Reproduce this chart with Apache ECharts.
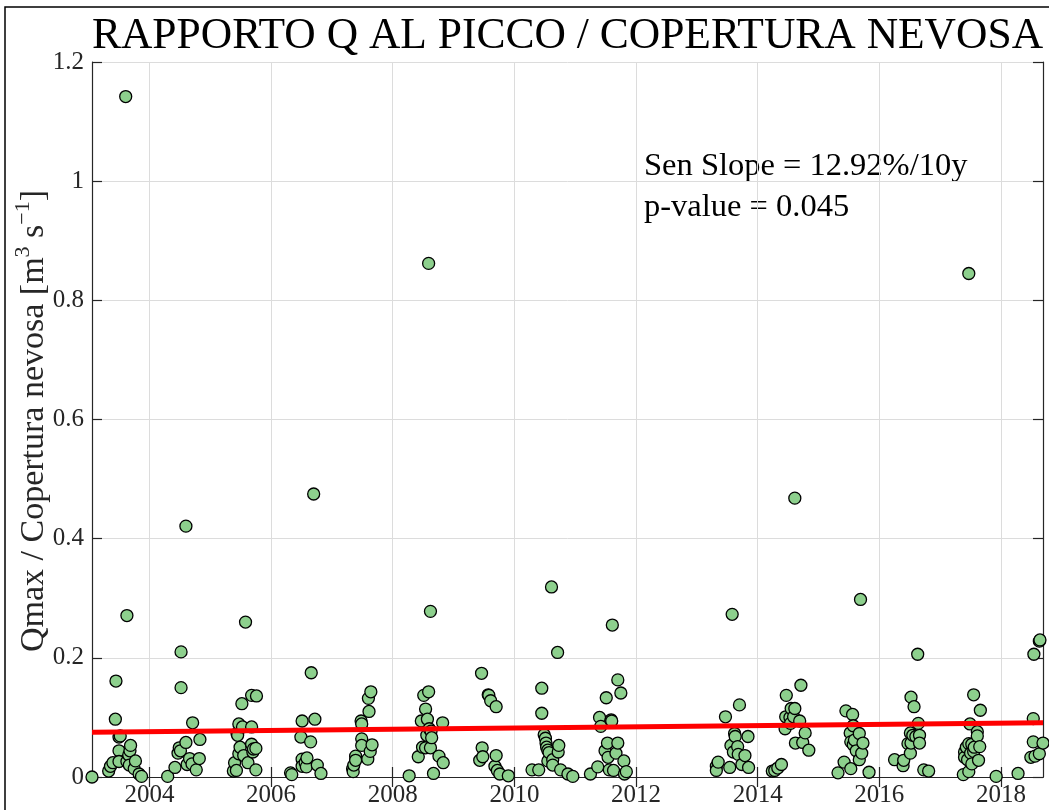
<!DOCTYPE html>
<html>
<head>
<meta charset="utf-8">
<script src="https://cdn.jsdelivr.net/npm/echarts@6/dist/echarts.min.js"></script>
<style>
  html, body { margin: 0; padding: 0; background: #ffffff; }
  #chart { width: 1049px; height: 810px; }
</style>
</head>
<body>
<div id="chart"></div>
<script>
// Peak discharge / snow cover ratio, one array of [decimal year, ratio] per melt season
const season2003 = [[2003.056,0.000],[2003.33,0.010],[2003.36,0.018],[2003.40,0.024],[2003.44,0.097],[2003.45,0.161],[2003.50,0.067],[2003.52,0.069],[2003.50,0.044],[2003.50,0.026],[2003.61,1.142],[2003.63,0.271],[2003.63,0.026],[2003.66,0.037],[2003.67,0.020],[2003.68,0.044],[2003.69,0.053],[2003.75,0.014],[2003.77,0.027],[2003.83,0.005],[2003.87,0.001]];
const season2004 = [[2004.30,0.001],[2004.42,0.016],[2004.47,0.040],[2004.49,0.049],[2004.51,0.044],[2004.52,0.210],[2004.52,0.150],[2004.60,0.058],[2004.60,0.421],[2004.62,0.021],[2004.66,0.031],[2004.70,0.022],[2004.71,0.091],[2004.77,0.012],[2004.82,0.031],[2004.83,0.063]];
const season2005 = [[2005.38,0.010],[2005.40,0.024],[2005.43,0.011],[2005.44,0.073],[2005.45,0.070],[2005.47,0.089],[2005.47,0.039],[2005.49,0.050],[2005.52,0.123],[2005.53,0.084],[2005.55,0.036],[2005.58,0.260],[2005.62,0.024],[2005.68,0.137],[2005.68,0.084],[2005.68,0.055],[2005.70,0.042],[2005.71,0.047],[2005.75,0.048],[2005.75,0.012],[2005.76,0.136]];
const season2006 = [[2006.32,0.007],[2006.34,0.004],[2006.49,0.067],[2006.51,0.094],[2006.51,0.030],[2006.51,0.018],[2006.56,0.024],[2006.58,0.017],[2006.59,0.032],[2006.65,0.059],[2006.66,0.175],[2006.70,0.475],[2006.72,0.097],[2006.76,0.020],[2006.82,0.006]];
const season2007 = [[2007.34,0.014],[2007.35,0.009],[2007.36,0.020],[2007.39,0.035],[2007.39,0.028],[2007.48,0.094],[2007.49,0.089],[2007.49,0.064],[2007.49,0.053],[2007.59,0.030],[2007.60,0.132],[2007.61,0.110],[2007.63,0.043],[2007.64,0.143],[2007.66,0.054]];
const season2008 = [[2008.27,0.002],[2008.42,0.034],[2008.47,0.094],[2008.49,0.050],[2008.51,0.137],[2008.54,0.114],[2008.54,0.049],[2008.56,0.070],[2008.57,0.097],[2008.59,0.143],[2008.59,0.862],[2008.60,0.081],[2008.62,0.278],[2008.62,0.049],[2008.63,0.077],[2008.64,0.066],[2008.67,0.006],[2008.76,0.035],[2008.82,0.091],[2008.83,0.024]];
const season2009 = [[2009.43,0.028],[2009.46,0.174],[2009.47,0.049],[2009.48,0.034],[2009.57,0.138],[2009.58,0.137],[2009.61,0.128],[2009.68,0.018],[2009.70,0.118],[2009.70,0.036],[2009.72,0.011],[2009.76,0.005],[2009.90,0.002]];
const season2010 = [[2010.29,0.012],[2010.40,0.012],[2010.45,0.149],[2010.45,0.107],[2010.49,0.071],[2010.51,0.065],[2010.52,0.057],[2010.53,0.050],[2010.55,0.045],[2010.55,0.027],[2010.57,0.041],[2010.61,0.319],[2010.63,0.029],[2010.63,0.020],[2010.71,0.209],[2010.72,0.042],[2010.73,0.053],[2010.76,0.012],[2010.88,0.005],[2010.96,0.001]];
const season2011 = [[2011.25,0.005],[2011.37,0.017],[2011.40,0.100],[2011.42,0.085],[2011.49,0.044],[2011.51,0.133],[2011.53,0.057],[2011.54,0.033],[2011.56,0.012],[2011.59,0.096],[2011.60,0.094],[2011.61,0.255],[2011.63,0.011],[2011.67,0.040],[2011.70,0.163],[2011.70,0.057],[2011.75,0.141],[2011.80,0.027],[2011.81,0.005],[2011.84,0.009]];
const season2013 = [[2013.32,0.018],[2013.32,0.011],[2013.35,0.025],[2013.47,0.101],[2013.54,0.016],[2013.56,0.053],[2013.58,0.273],[2013.60,0.042],[2013.62,0.073],[2013.63,0.068],[2013.67,0.051],[2013.68,0.038],[2013.70,0.121],[2013.74,0.021],[2013.79,0.036],[2013.84,0.068],[2013.85,0.016]];
const season2014 = [[2014.24,0.010],[2014.28,0.011],[2014.33,0.015],[2014.39,0.021],[2014.45,0.081],[2014.46,0.101],[2014.47,0.137],[2014.53,0.100],[2014.54,0.090],[2014.55,0.115],[2014.59,0.101],[2014.61,0.115],[2014.61,0.468],[2014.62,0.057],[2014.69,0.094],[2014.71,0.154],[2014.74,0.058],[2014.78,0.074],[2014.84,0.045]];
const season2015 = [[2015.32,0.007],[2015.42,0.025],[2015.45,0.111],[2015.52,0.074],[2015.53,0.059],[2015.53,0.014],[2015.56,0.105],[2015.57,0.086],[2015.57,0.054],[2015.59,0.062],[2015.62,0.044],[2015.67,0.073],[2015.67,0.029],[2015.69,0.298],[2015.71,0.040],[2015.73,0.057],[2015.83,0.008]];
const season2016 = [[2016.25,0.029],[2016.39,0.019],[2016.40,0.028],[2016.47,0.056],[2016.51,0.074],[2016.51,0.040],[2016.52,0.134],[2016.52,0.057],[2016.55,0.070],[2016.57,0.118],[2016.60,0.068],[2016.63,0.206],[2016.64,0.090],[2016.66,0.070],[2016.66,0.057],[2016.73,0.012],[2016.81,0.010]];
const season2017 = [[2017.38,0.004],[2017.40,0.042],[2017.40,0.033],[2017.43,0.050],[2017.45,0.029],[2017.47,0.056],[2017.47,0.009],[2017.47,0.845],[2017.49,0.089],[2017.50,0.040],[2017.52,0.055],[2017.52,0.022],[2017.55,0.138],[2017.55,0.043],[2017.56,0.050],[2017.61,0.076],[2017.61,0.069],[2017.63,0.028],[2017.65,0.051],[2017.66,0.112],[2017.92,0.001]];
const season2018 = [[2018.28,0.006],[2018.49,0.033],[2018.53,0.098],[2018.53,0.059],[2018.54,0.206],[2018.56,0.035],[2018.63,0.039],[2018.63,0.228],[2018.64,0.230],[2018.69,0.057]];

// Sen-slope trend line across the record
const trendLine = [[2003.056, 0.0752], [2018.69, 0.0910]];

// Axis ranges and tick values
const xRange = [2003.056, 2018.69];
const yearTicks = [2004, 2006, 2008, 2010, 2012, 2014, 2016, 2018];
const yRange = [0, 1.2];
const yStep = 0.2;

const titleText = 'RAPPORTO Q AL PICCO / COPERTURA NEVOSA';
const statLines = ['Sen Slope = 12.92%/10y', 'p-value = 0.045'];

const allPoints = [].concat(season2003, season2004, season2005, season2006, season2007,
  season2008, season2009, season2010, season2011, season2013, season2014, season2015,
  season2016, season2017, season2018);

const SERIF = '"Liberation Serif", "DejaVu Serif", serif';
const INK = '#262626';
const GRID_COLOR = '#dcdcdc';

const chart = echarts.init(document.getElementById('chart'), null, { renderer: 'canvas' });

const plotLeft = 92, plotTop = 62, plotRight = 1043, plotBottom = 777;

const axisLineStyle = { show: true, lineStyle: { color: INK, width: 1.2 } };

chart.setOption({
  backgroundColor: '#ffffff',
  animation: false,
  grid: { left: plotLeft, top: plotTop, right: 1049 - plotRight, bottom: 810 - plotBottom, containLabel: false },
  xAxis: [
    {
      type: 'value', position: 'bottom', min: xRange[0], max: xRange[1],
      axisLine: axisLineStyle,
      axisTick: { show: true, inside: true, length: 10, customValues: yearTicks, lineStyle: { color: INK, width: 1.2 } },
      axisLabel: { show: true, customValues: yearTicks, formatter: v => String(Math.round(v)),
        color: INK, fontFamily: SERIF, fontSize: 25, margin: 6 },
      splitLine: { show: true, lineStyle: { color: GRID_COLOR, width: 1 } }
    },
    {
      type: 'value', position: 'top', min: xRange[0], max: xRange[1],
      axisLine: axisLineStyle,
      axisTick: { show: true, inside: true, length: 10, customValues: yearTicks, lineStyle: { color: INK, width: 1.2 } },
      axisLabel: { show: false },
      splitLine: { show: false }
    }
  ],
  yAxis: [
    {
      type: 'value', position: 'left', min: yRange[0], max: yRange[1], interval: yStep,
      axisLine: axisLineStyle,
      axisTick: { show: true, inside: true, length: 10, lineStyle: { color: INK, width: 1.2 } },
      axisLabel: { color: INK, fontFamily: SERIF, fontSize: 25, margin: 8 },
      splitLine: { show: true, lineStyle: { color: GRID_COLOR, width: 1 } }
    },
    {
      type: 'value', position: 'right', min: yRange[0], max: yRange[1], interval: yStep,
      axisLine: axisLineStyle,
      axisTick: { show: true, inside: true, length: 10, lineStyle: { color: INK, width: 1.2 } },
      axisLabel: { show: false },
      splitLine: { show: false }
    }
  ],
  series: [
    {
      type: 'scatter', xAxisIndex: 0, yAxisIndex: 0, data: allPoints,
      symbol: 'circle', symbolSize: 12, clip: false,
      itemStyle: { color: '#8dd08d', borderColor: '#000000', borderWidth: 1.3, opacity: 1 },
      emphasis: { disabled: true }, z: 3
    },
    {
      type: 'line', xAxisIndex: 0, yAxisIndex: 0, data: trendLine,
      symbol: 'none', lineStyle: { color: '#ff0000', width: 5 }, z: 4, silent: true
    }
  ],
  graphic: [
    // figure frame (top and left edges fall inside the canvas)
    { type: 'rect', shape: { x: 5, y: 7, width: 1100, height: 900 }, style: { fill: 'none', stroke: '#000000', lineWidth: 1.5 }, silent: true },
    { type: 'text', x: (plotLeft + plotRight) / 2, y: 37,
      style: { text: titleText, font: '43.5px ' + SERIF, fill: '#000000', align: 'center', verticalAlign: 'middle' } },
    { type: 'text', x: 644, y: 166,
      style: { text: statLines[0], font: '32.5px ' + SERIF, fill: '#000000', align: 'left', verticalAlign: 'middle' } },
    { type: 'text', x: 644, y: 207,
      style: { text: statLines[1], font: '32.5px ' + SERIF, fill: '#000000', align: 'left', verticalAlign: 'middle' } },
    { type: 'text', x: 32, y: 421, rotation: Math.PI / 2,
      style: {
        text: '{n|Qmax / Copertura nevosa [m}{s|3}{n| s}{s|\u22121}{n|]}',
        align: 'center', verticalAlign: 'middle', fill: INK,
        rich: {
          n: { fontFamily: SERIF, fontSize: 34, fill: INK, verticalAlign: 'bottom', lineHeight: 39 },
          s: { fontFamily: SERIF, fontSize: 22, fill: INK, verticalAlign: 'top', lineHeight: 39 }
        }
      } }
  ]
});
</script>
</body>
</html>
